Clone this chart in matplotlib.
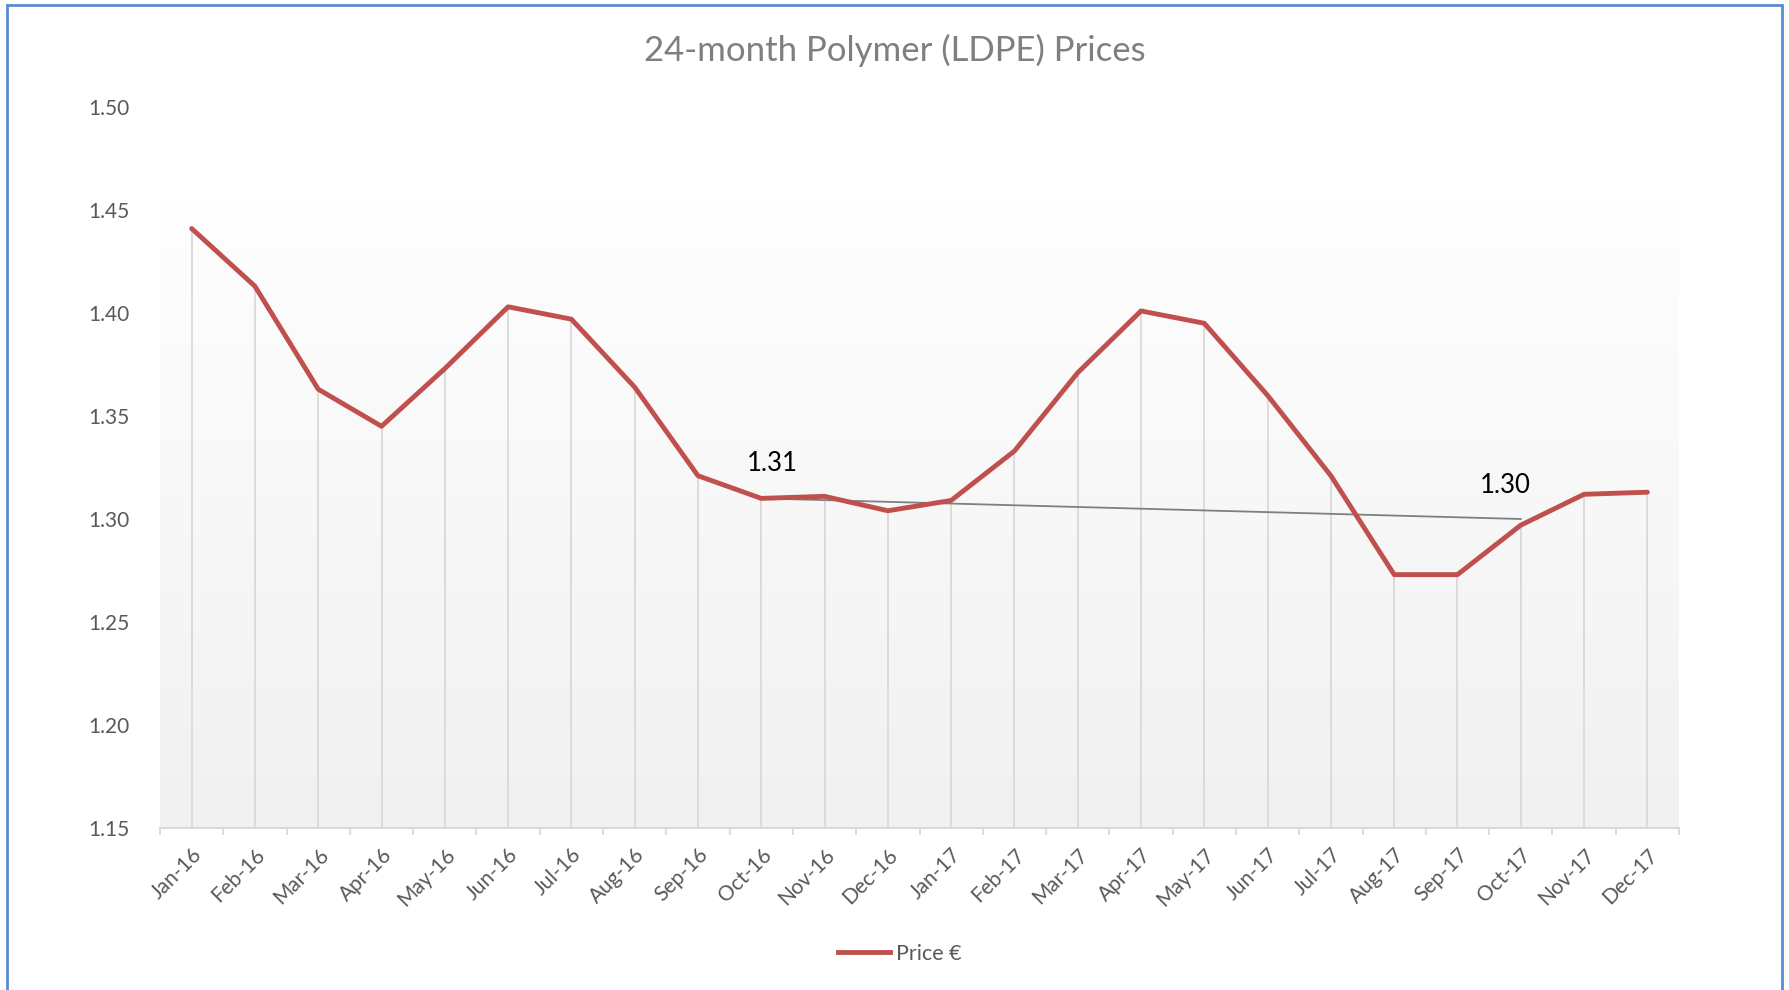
import matplotlib
matplotlib.use("Agg")
import matplotlib.pyplot as plt
import numpy as np
from matplotlib.patches import Rectangle
from matplotlib.lines import Line2D
from matplotlib.ticker import FixedLocator, NullFormatter
from matplotlib.colors import LinearSegmentedColormap

plt.rcParams['font.family'] = ['Lato', 'DejaVu Sans']

months = ["Jan-16", "Feb-16", "Mar-16", "Apr-16", "May-16", "Jun-16", "Jul-16", "Aug-16",
          "Sep-16", "Oct-16", "Nov-16", "Dec-16", "Jan-17", "Feb-17", "Mar-17", "Apr-17",
          "May-17", "Jun-17", "Jul-17", "Aug-17", "Sep-17", "Oct-17", "Nov-17", "Dec-17"]
price = [1.441, 1.413, 1.363, 1.345, 1.373, 1.403, 1.397, 1.364,
         1.321, 1.310, 1.311, 1.304, 1.309, 1.333, 1.371, 1.401,
         1.395, 1.360, 1.321, 1.273, 1.273, 1.297, 1.312, 1.313]
trend_months = ["Oct-16", "Oct-17"]
trend_values = [1.31, 1.30]
yticks = [1.15, 1.20, 1.25, 1.30, 1.35, 1.40, 1.45, 1.50]

W, H = 1789, 990
fig = plt.figure(figsize=(W / 100, H / 100), dpi=100)
ax = fig.add_axes([160 / W, 1 - 828 / H, (1679 - 160) / W, (828 - 107) / H])

x = np.arange(len(months))
ax.set_xlim(-0.5, len(months) - 0.5)
ax.set_ylim(1.15, 1.50)

# gradient background
grad_top = 1.454
grad = np.linspace(0, 1, 256).reshape(-1, 1)
cmap = LinearSegmentedColormap.from_list("g", ["#f1f1f1", "#fefefe"])
ax.imshow(grad, extent=(-0.5, len(months) - 0.5, 1.15, grad_top), origin='lower',
          aspect='auto', cmap=cmap, zorder=0, interpolation='bilinear')

# drop lines
ax.vlines(x, 1.15, price, color='#d9d9d9', lw=1.3, zorder=1)

# trend series
tx = [months.index(m) for m in trend_months]
ax.plot(tx, trend_values, color='#7f7f7f', lw=1.3, zorder=3)

# main series
ax.plot(x, price, color='#c0504d', lw=3.5, zorder=4, solid_joinstyle='round',
        solid_capstyle='round')

# data labels
ax.annotate(f"{trend_values[0]:.2f}", (tx[0], trend_values[0]), xytext=(8, 16),
            textcoords='offset points', ha='center', va='bottom', fontsize=18.5, color='black')
ax.annotate(f"{trend_values[1]:.2f}", (tx[1], trend_values[1]), xytext=(-11, 15),
            textcoords='offset points', ha='center', va='bottom', fontsize=18.5, color='black')

# axes styling
for s in ['top', 'right', 'left']:
    ax.spines[s].set_visible(False)
ax.spines['bottom'].set_color('#d9d9d9')
ax.spines['bottom'].set_linewidth(1.5)

ax.set_xticks(x)
ax.set_xticklabels(months, rotation=45, ha='right', rotation_mode='anchor',
                   fontsize=15, color='#595959')
ax.tick_params(axis='x', which='major', length=0, pad=12)
ax.xaxis.set_minor_locator(FixedLocator(np.arange(-0.5, len(months), 1.0)))
ax.xaxis.set_minor_formatter(NullFormatter())
ax.tick_params(axis='x', which='minor', length=5, width=1.3, color='#d9d9d9')

ax.set_yticks(yticks)
ax.set_yticklabels([f"{v:.2f}" for v in yticks], fontsize=15, color='#595959')
ax.tick_params(axis='y', length=0, pad=22)

# title
fig.text(895 / W, 1 - 50 / H, "24-month Polymer (LDPE) Prices", ha='center', va='center',
         fontsize=25, color='#7f7f7f')

# legend
handle = Line2D([0], [0], color='#c0504d', lw=3.5)
fig.legend([handle], ["Price €"], loc='center', bbox_to_anchor=(900 / W, 1 - 954 / H),
           frameon=False, fontsize=15.5, labelcolor='#595959', handlelength=2.4,
           handletextpad=0.3)

# outer border
fig.patches.append(Rectangle((7 / W, -0.05), (1782 - 7) / W, 1.05 - 5 / H,
                             transform=fig.transFigure, fill=False,
                             edgecolor='#5b8bd0', lw=2.0, zorder=10))

fig.savefig("out.png", dpi=100)
